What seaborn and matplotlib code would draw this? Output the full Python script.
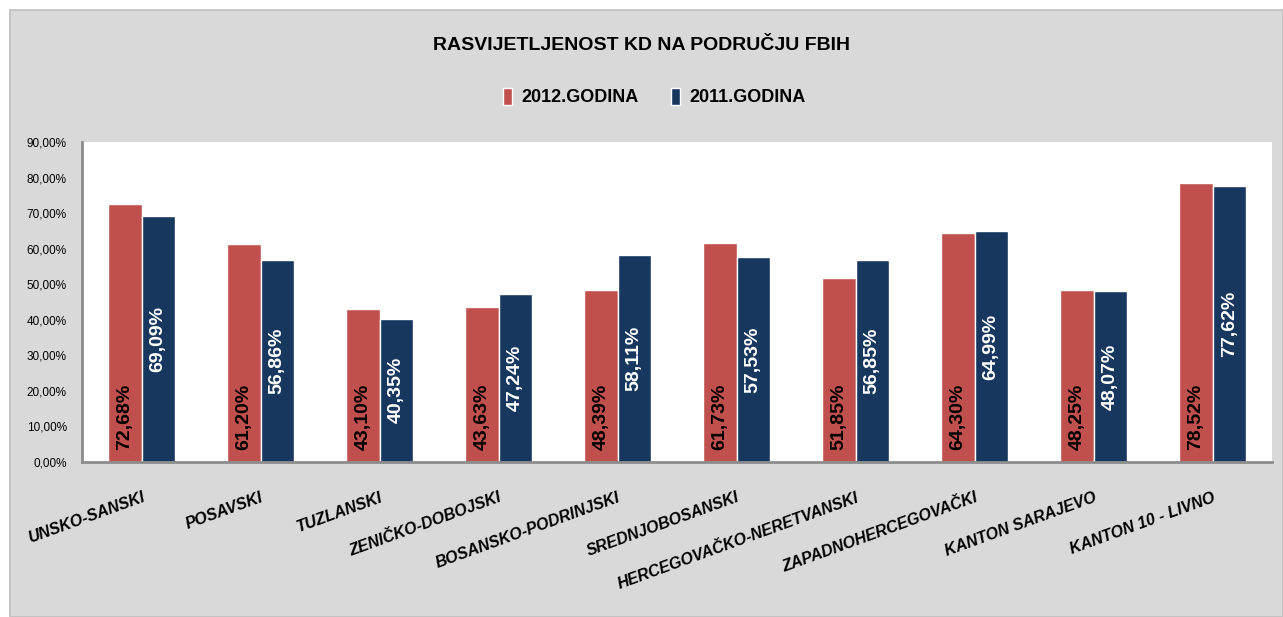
import pandas as pd
import matplotlib.pyplot as plt
import seaborn as sns
from matplotlib.patches import Rectangle
from matplotlib.ticker import FuncFormatter

# Data
kantoni = ["UNSKO-SANSKI", "POSAVSKI", "TUZLANSKI", "ZENIČKO-DOBOJSKI",
           "BOSANSKO-PODRINJSKI", "SREDNJOBOSANSKI", "HERCEGOVAČKO-NERETVANSKI",
           "ZAPADNOHERCEGOVAČKI", "KANTON SARAJEVO", "KANTON 10 - LIVNO"]
godina_2012 = [72.68, 61.20, 43.10, 43.63, 48.39, 61.73, 51.85, 64.30, 48.25, 78.52]
godina_2011 = [69.09, 56.86, 40.35, 47.24, 58.11, 57.53, 56.85, 64.99, 48.07, 77.62]
serije = ["2012.GODINA", "2011.GODINA"]
boje = ["#c0504d", "#17375e"]

# Long format for seaborn
df = pd.DataFrame({
    "Kanton": kantoni * 2,
    "Godina": [serije[0]] * len(kantoni) + [serije[1]] * len(kantoni),
    "Vrijednost": godina_2012 + godina_2011,
})

sns.set_theme(style="white")
plt.rcParams["font.family"] = ["Liberation Sans", "DejaVu Sans"]
plt.rcParams["text.color"] = "black"
plt.rcParams["xtick.color"] = "black"
plt.rcParams["ytick.color"] = "black"

fig = plt.figure(figsize=(12.83, 6.17), dpi=100)
fig.patch.set_facecolor("white")
# gray chart panel
fig.patches.append(Rectangle((10 / 1283, 0), 1 - 10 / 1283, 1 - 10 / 617,
                             transform=fig.transFigure, facecolor="#d9d9d9",
                             edgecolor="#bfbfbf", linewidth=1.2, zorder=-5))

ax = fig.add_axes([82 / 1283, 155 / 617, 1190 / 1283, 320 / 617])
sns.barplot(data=df, x="Kanton", y="Vrijednost", hue="Godina", hue_order=serije,
            palette=boje, saturation=1, width=0.56, edgecolor="white", linewidth=1,
            ax=ax, legend=False)
ax.set_facecolor("white")
ax.set_ylim(0, 90)
ax.set_yticks(range(0, 91, 10))
ax.yaxis.set_major_formatter(FuncFormatter(lambda v, p: f"{v:.2f}%".replace(".", ",")))
ax.set_xlabel("")
ax.set_ylabel("")
ax.tick_params(axis="both", length=0)
ax.tick_params(axis="y", labelsize=8.5, pad=11)
for s in ["top", "right"]:
    ax.spines[s].set_visible(False)
for s in ["left", "bottom"]:
    ax.spines[s].set_color("#8c8c8c")
    ax.spines[s].set_linewidth(2)

for lbl in ax.get_xticklabels():
    lbl.set_rotation(20)
    lbl.set_ha("right")
    lbl.set_rotation_mode("anchor")
    lbl.set_fontweight("bold")
    lbl.set_fontstyle("italic")
    lbl.set_fontsize(11.5)
ax.tick_params(axis="x", pad=20)

# 2012 labels at the base of the bars
for p, v in zip(ax.containers[0], godina_2012):
    ax.annotate(f"{v:.2f}%".replace(".", ","), (p.get_x() + p.get_width() / 2, 0),
                xytext=(0, 9), textcoords="offset points", rotation=90,
                ha="center", va="bottom", fontsize=14, fontweight="bold", color="black")
# 2011 labels in the middle of the bars
ax.bar_label(ax.containers[1], labels=[f"{v:.2f}%".replace(".", ",") for v in godina_2011],
             label_type="center", rotation=90, fontsize=14, fontweight="bold", color="white")

fig.text(0.5, 1 - 45 / 617, "RASVIJETLJENOST KD NA PODRUČJU FBIH", ha="center", va="center",
         fontsize=14, fontweight="bold")
handles = [Rectangle((0, 0), 1, 1, facecolor=c, edgecolor="white") for c in boje]
fig.legend(handles, serije, loc="center", bbox_to_anchor=(0.51, 1 - 97 / 617), ncol=2,
           frameon=False, handlelength=0.5, handleheight=1.1, columnspacing=1.8,
           handletextpad=0.5, prop={"weight": "bold", "size": 13})

plt.savefig("out.png", dpi=100, facecolor=fig.get_facecolor())
